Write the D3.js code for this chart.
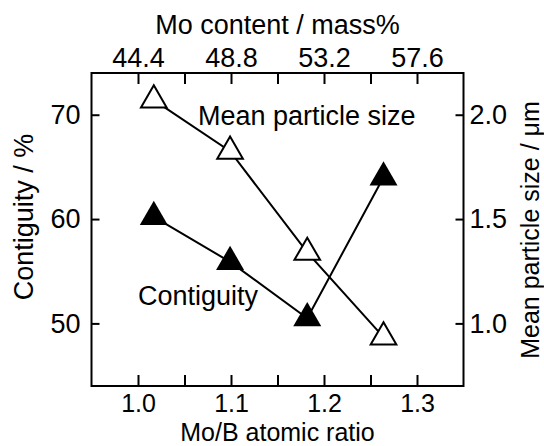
<!DOCTYPE html>
<html>
<head>
<meta charset="utf-8">
<script src="https://cdn.jsdelivr.net/npm/d3@7"></script>
<style>
  body { margin: 0; background: #fff; }
  svg { display: block; font-family: "Liberation Sans", Arial, sans-serif; }
</style>
</head>
<body>
<svg id="chart" width="544" height="446"></svg>
<script>
// values
let moBRatio = [1.017, 1.099, 1.182, 1.264];
let contiguity = [60.2, 55.9, 50.5, 64.0];
let particleSize = [2.07, 1.825, 1.34, 0.934];

let bottomTicks = [1.0, 1.1, 1.2, 1.3];
let bottomMinor = [1.05, 1.15, 1.25];
let topTicks = [44.4, 48.8, 53.2, 57.6];
let topMinor = [46.6, 51.0, 55.4];
let leftTicks = [50, 60, 70];
let rightTicks = [1.0, 1.5, 2.0];

let margin = { left: 91.5, top: 73 };
let width = 372;
let height = 313;

let svg = d3.select("#chart");
let g = svg.append("g").attr("transform", `translate(${margin.left},${margin.top})`);

let x = d3.scaleLinear().domain([0.95, 1.35]).range([0, width]);
let xTop = d3.scaleLinear().domain([42.2, 59.8]).range([0, width]);
let yLeft = d3.scaleLinear().domain([44, 74]).range([height, 0]);
let yRight = d3.scaleLinear().domain([0.7, 2.2]).range([height, 0]);

let styleAxis = (sel, size) => {
  sel.select(".domain").remove();
  sel.selectAll(".tick line").attr("stroke", "#000").attr("stroke-width", 2);
  sel.selectAll(".tick text").attr("fill", "#000").style("font-size", size + "px");
};

// bottom
g.append("g").attr("transform", `translate(0,${height})`)
  .call(d3.axisBottom(x).tickValues(bottomTicks).tickFormat(d3.format(".1f")).tickSize(-11).tickPadding(8.7))
  .call(styleAxis, 25);
g.append("g").attr("transform", `translate(0,${height})`)
  .call(d3.axisBottom(x).tickValues(bottomMinor).tickFormat("").tickSize(-11))
  .call(styleAxis, 25);

// top
g.append("g")
  .call(d3.axisTop(xTop).tickValues(topTicks).tickFormat(d3.format(".1f")).tickSize(-11).tickPadding(6))
  .call(styleAxis, 27);
g.append("g")
  .call(d3.axisTop(xTop).tickValues(topMinor).tickFormat("").tickSize(-11))
  .call(styleAxis, 27);

// left
g.append("g")
  .call(d3.axisLeft(yLeft).tickValues(leftTicks).tickSize(-8).tickPadding(11))
  .call(styleAxis, 27);

// right
g.append("g").attr("transform", `translate(${width},0)`)
  .call(d3.axisRight(yRight).tickValues(rightTicks).tickFormat(d3.format(".1f")).tickSize(-8).tickPadding(6))
  .call(styleAxis, 27);

// frame
g.append("rect")
  .attr("width", width)
  .attr("height", height)
  .attr("fill", "none")
  .attr("stroke", "#000")
  .attr("stroke-width", 2);

// lines
let idx = d3.range(moBRatio.length);
let sizeLine = d3.line().x((i) => x(moBRatio[i])).y((i) => yRight(particleSize[i]));
let contLine = d3.line().x((i) => x(moBRatio[i])).y((i) => yLeft(contiguity[i]));

g.append("path").attr("d", sizeLine(idx)).attr("fill", "none").attr("stroke", "#000").attr("stroke-width", 2);
g.append("path").attr("d", contLine(idx)).attr("fill", "none").attr("stroke", "#000").attr("stroke-width", 2);

// markers
let tri = d3.symbol().type(d3.symbolTriangle);

g.selectAll(".open")
  .data(idx)
  .enter()
  .append("path")
  .attr("class", "open")
  .attr("d", tri.size(285)())
  .attr("transform", (i) => `translate(${x(moBRatio[i])},${yRight(particleSize[i])})`)
  .attr("fill", "#fff")
  .attr("stroke", "#000")
  .attr("stroke-width", 2);

g.selectAll(".filled")
  .data(idx)
  .enter()
  .append("path")
  .attr("class", "filled")
  .attr("d", tri.size(340)())
  .attr("transform", (i) => `translate(${x(moBRatio[i])},${yLeft(contiguity[i])})`)
  .attr("fill", "#000");

// series labels
svg.append("text").attr("x", 198).attr("y", 125).style("font-size", "27px").text("Mean particle size");
svg.append("text").attr("x", 138).attr("y", 305).style("font-size", "27px").text("Contiguity");

// axis titles
svg.append("text")
  .attr("x", margin.left + width / 2).attr("y", 440.5)
  .attr("text-anchor", "middle").style("font-size", "25px")
  .text("Mo/B atomic ratio");
svg.append("text")
  .attr("x", margin.left + width / 2).attr("y", 34)
  .attr("text-anchor", "middle").style("font-size", "27px")
  .text("Mo content / mass%");
svg.append("text")
  .attr("transform", "translate(33,217) rotate(-90)")
  .attr("text-anchor", "middle").style("font-size", "27px")
  .text("Contiguity / %");
svg.append("text")
  .attr("transform", "translate(539,230) rotate(-90)")
  .attr("text-anchor", "middle").style("font-size", "25px")
  .text("Mean particle size / μm");
</script>
</body>
</html>
